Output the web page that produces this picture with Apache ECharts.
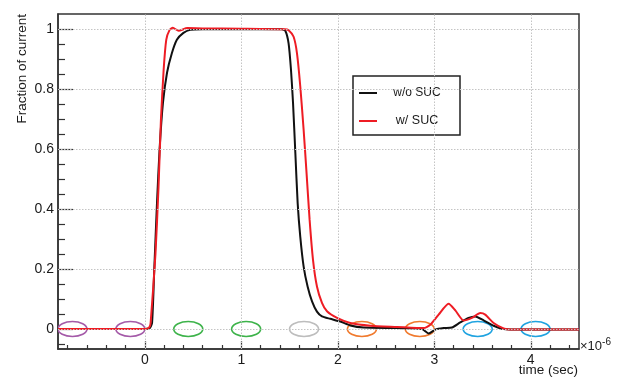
<!DOCTYPE html>
<html><head><meta charset="utf-8">
<script src="https://cdn.jsdelivr.net/npm/echarts@6/dist/echarts.min.js"></script>
<style>html,body{margin:0;padding:0;background:#fff}#c{width:617px;height:378px}</style>
</head><body><div id="c"></div>
<script>
// ---- data (time in units of 1e-6 s) ----
const tBlack = [-0.9,0.0,0.05,0.075,0.098,0.126,0.153,0.188,0.23,0.28,0.332,0.40,0.47,0.6,1.0,1.42,1.456,1.49,1.515,1.536,1.56,1.584,1.611,1.646,1.687,1.733,1.784,1.836,1.922,2.026,2.13,2.267,2.614,2.873,2.941,3.01,3.097,3.183,3.269,3.355,3.425,3.511,3.615,3.718,3.89,4.5];
const vBlack = [0,0,0.003,0.02,0.2,0.42,0.6,0.755,0.855,0.92,0.965,0.988,0.998,1.0,1.0,1.0,0.995,0.953,0.864,0.754,0.587,0.42,0.308,0.208,0.142,0.092,0.058,0.042,0.034,0.025,0.012,0.005,0.003,0.0,-0.015,-0.002,0.003,0.005,0.022,0.037,0.042,0.029,0.011,0.0,-0.002,-0.002];
const tRed = [-0.9,0.0,0.045,0.06,0.11,0.142,0.167,0.195,0.222,0.257,0.29,0.35,0.44,0.6,1.0,1.45,1.49,1.542,1.577,1.611,1.646,1.674,1.708,1.743,1.784,1.836,1.888,1.992,2.13,2.337,2.614,2.89,2.959,3.045,3.148,3.218,3.304,3.39,3.477,3.528,3.615,3.718,3.788,4.5];
const vRed = [0,0,0.005,0.02,0.25,0.475,0.70,0.865,0.965,0.998,1.005,0.995,1.004,1.003,1.002,1.0,0.997,0.975,0.92,0.81,0.664,0.531,0.364,0.231,0.142,0.087,0.059,0.037,0.02,0.011,0.007,0.003,0.014,0.048,0.084,0.062,0.028,0.037,0.053,0.048,0.02,0.002,-0.002,-0.002];
const seriesNames = ['w/o SUC','w/ SUC'];
const ellipseX = [-0.75,-0.15,0.45,1.05,1.65,2.25,2.85,3.45,4.05,4.65];
const ellipseColors = ['#a45aa8','#a45aa8','#3db34a','#3db34a','#bdbdbd','#f07a2e','#f07a2e','#1fa3e0','#1fa3e0','#a45aa8'];
const xMajor = [0,1,2,3,4];
const xMinor = [-0.8,-0.6,-0.4,-0.2,0.2,0.4,0.6,0.8,1.2,1.4,1.6,1.8,2.2,2.4,2.6,2.8,3.2,3.4,3.6,3.8,4.2,4.4];
const yMajor = [0,0.2,0.4,0.6,0.8,1];
const yMinor = [-0.05,0.05,0.1,0.15,0.25,0.3,0.35,0.45,0.5,0.55,0.65,0.7,0.75,0.85,0.9,0.95];

const zip = (a,b)=>a.map((x,i)=>[x,b[i]]);
const TXT = '#1a1a1a', AX = '#333';
const font = 'Liberation Sans, Arial, sans-serif';

const chart = echarts.init(document.getElementById('c'), null, {renderer:'canvas'});
const xBase = {type:'value', min:-0.9, max:4.5, gridIndex:0, position:'bottom'};
const yBase = {type:'value', min:-0.0667, max:1.051, gridIndex:0, position:'left'};
chart.setOption({
  animation:false,
  backgroundColor:'#fff',
  textStyle:{fontFamily:font},
  grid:{left:58, right:38, top:14, bottom:29, show:true, borderColor:AX, borderWidth:1.5, backgroundColor:'transparent', containLabel:false},
  xAxis:[
    Object.assign({}, xBase, {axisLine:{show:true,onZero:false,lineStyle:{color:AX,width:1.5}}, splitLine:{show:false},
      axisTick:{show:true, inside:true, length:8, customValues:xMajor, lineStyle:{color:AX,width:1.2}},
      axisLabel:{show:true, customValues:xMajor, margin:4, fontSize:14, color:TXT, fontFamily:font}}),
    Object.assign({}, xBase, {axisLine:{show:false,onZero:false}, splitLine:{show:false},
      axisTick:{show:true, inside:true, length:4, customValues:xMinor, lineStyle:{color:AX,width:1.2}},
      axisLabel:{show:false}})
  ],
  yAxis:[
    Object.assign({}, yBase, {axisLine:{show:true,onZero:false,lineStyle:{color:AX,width:1.5}}, splitLine:{show:false},
      axisTick:{show:true, inside:true, length:15, customValues:yMajor, lineStyle:{color:AX,width:1.2}},
      axisLabel:{show:true, customValues:yMajor, margin:4, fontSize:14, color:TXT, fontFamily:font}}),
    Object.assign({}, yBase, {axisLine:{show:false,onZero:false}, splitLine:{show:false},
      axisTick:{show:true, inside:true, length:7, customValues:yMinor, lineStyle:{color:AX,width:1.2}},
      axisLabel:{show:false}})
  ],
  legend:{
    orient:'vertical', left:353, top:76, padding:[10,8,7,6], itemGap:14, itemWidth:18, itemHeight:2,
    borderColor:'#222', borderWidth:1.5, backgroundColor:'#fff', borderRadius:0,
    data:[{name:seriesNames[0], icon:'rect'},{name:seriesNames[1], icon:'rect'}],
    formatter: n => n===seriesNames[0] ? '{a|'+n+'}' : '{b|'+n+'}',
    textStyle:{color:TXT, width:70, align:'center', lineHeight:14,
      rich:{a:{fontSize:12, color:TXT, width:70, align:'center', fontFamily:font}, b:{fontSize:12.5, color:TXT, width:70, align:'center', fontFamily:font}}}
  },
  series:[
    {type:'line', name:'grid', data:[], xAxisIndex:0, yAxisIndex:0, z:1, silent:true,
      markLine:{silent:true, symbol:['none','none'], label:{show:false}, animation:false,
        lineStyle:{type:[1.5,1.5], color:'#c4c4c4', width:1},
        data: xMajor.map(v=>({xAxis:v})).concat(yMajor.map(v=>({yAxis:v})))}},
    {type:'custom', name:'markers', xAxisIndex:0, yAxisIndex:0, clip:true, z:2, silent:true,
      data: ellipseX.map((x,i)=>[x,0,i]),
      renderItem:(params, api)=>{
        const p = api.coord([api.value(0), api.value(1)]);
        return {type:'ellipse', shape:{cx:p[0], cy:p[1], rx:14.5, ry:7.5},
          style:{fill:null, stroke:ellipseColors[api.value(2)], lineWidth:1.6}};
      }},
    {type:'line', name:seriesNames[0], data:zip(tBlack,vBlack), xAxisIndex:0, yAxisIndex:0, z:3,
      showSymbol:false, smooth:0.2, color:'#111', lineStyle:{color:'#111', width:2}},
    {type:'line', name:seriesNames[1], data:zip(tRed,vRed), xAxisIndex:0, yAxisIndex:0, z:4,
      showSymbol:false, smooth:0.2, color:'#ee1c24', lineStyle:{color:'#ee1c24', width:2}}
  ],
  graphic:[
    {type:'text', x:22, y:14, rotation:Math.PI/2, style:{text:'Fraction of current', fill:TXT, font:'13.5px '+font, align:'right', verticalAlign:'middle'}},
    {type:'text', x:578, y:370, style:{text:'time (sec)', fill:TXT, font:'13.5px '+font, align:'right', verticalAlign:'middle'}},
    {type:'text', x:580, y:346, style:{text:'×10{s|-6}', fill:TXT, font:'13px '+font, align:'left', verticalAlign:'middle',
      rich:{s:{fontSize:10, fill:TXT, verticalAlign:'top', padding:[0,0,8,0], fontFamily:font}}}}
  ]
});
</script></body></html>
